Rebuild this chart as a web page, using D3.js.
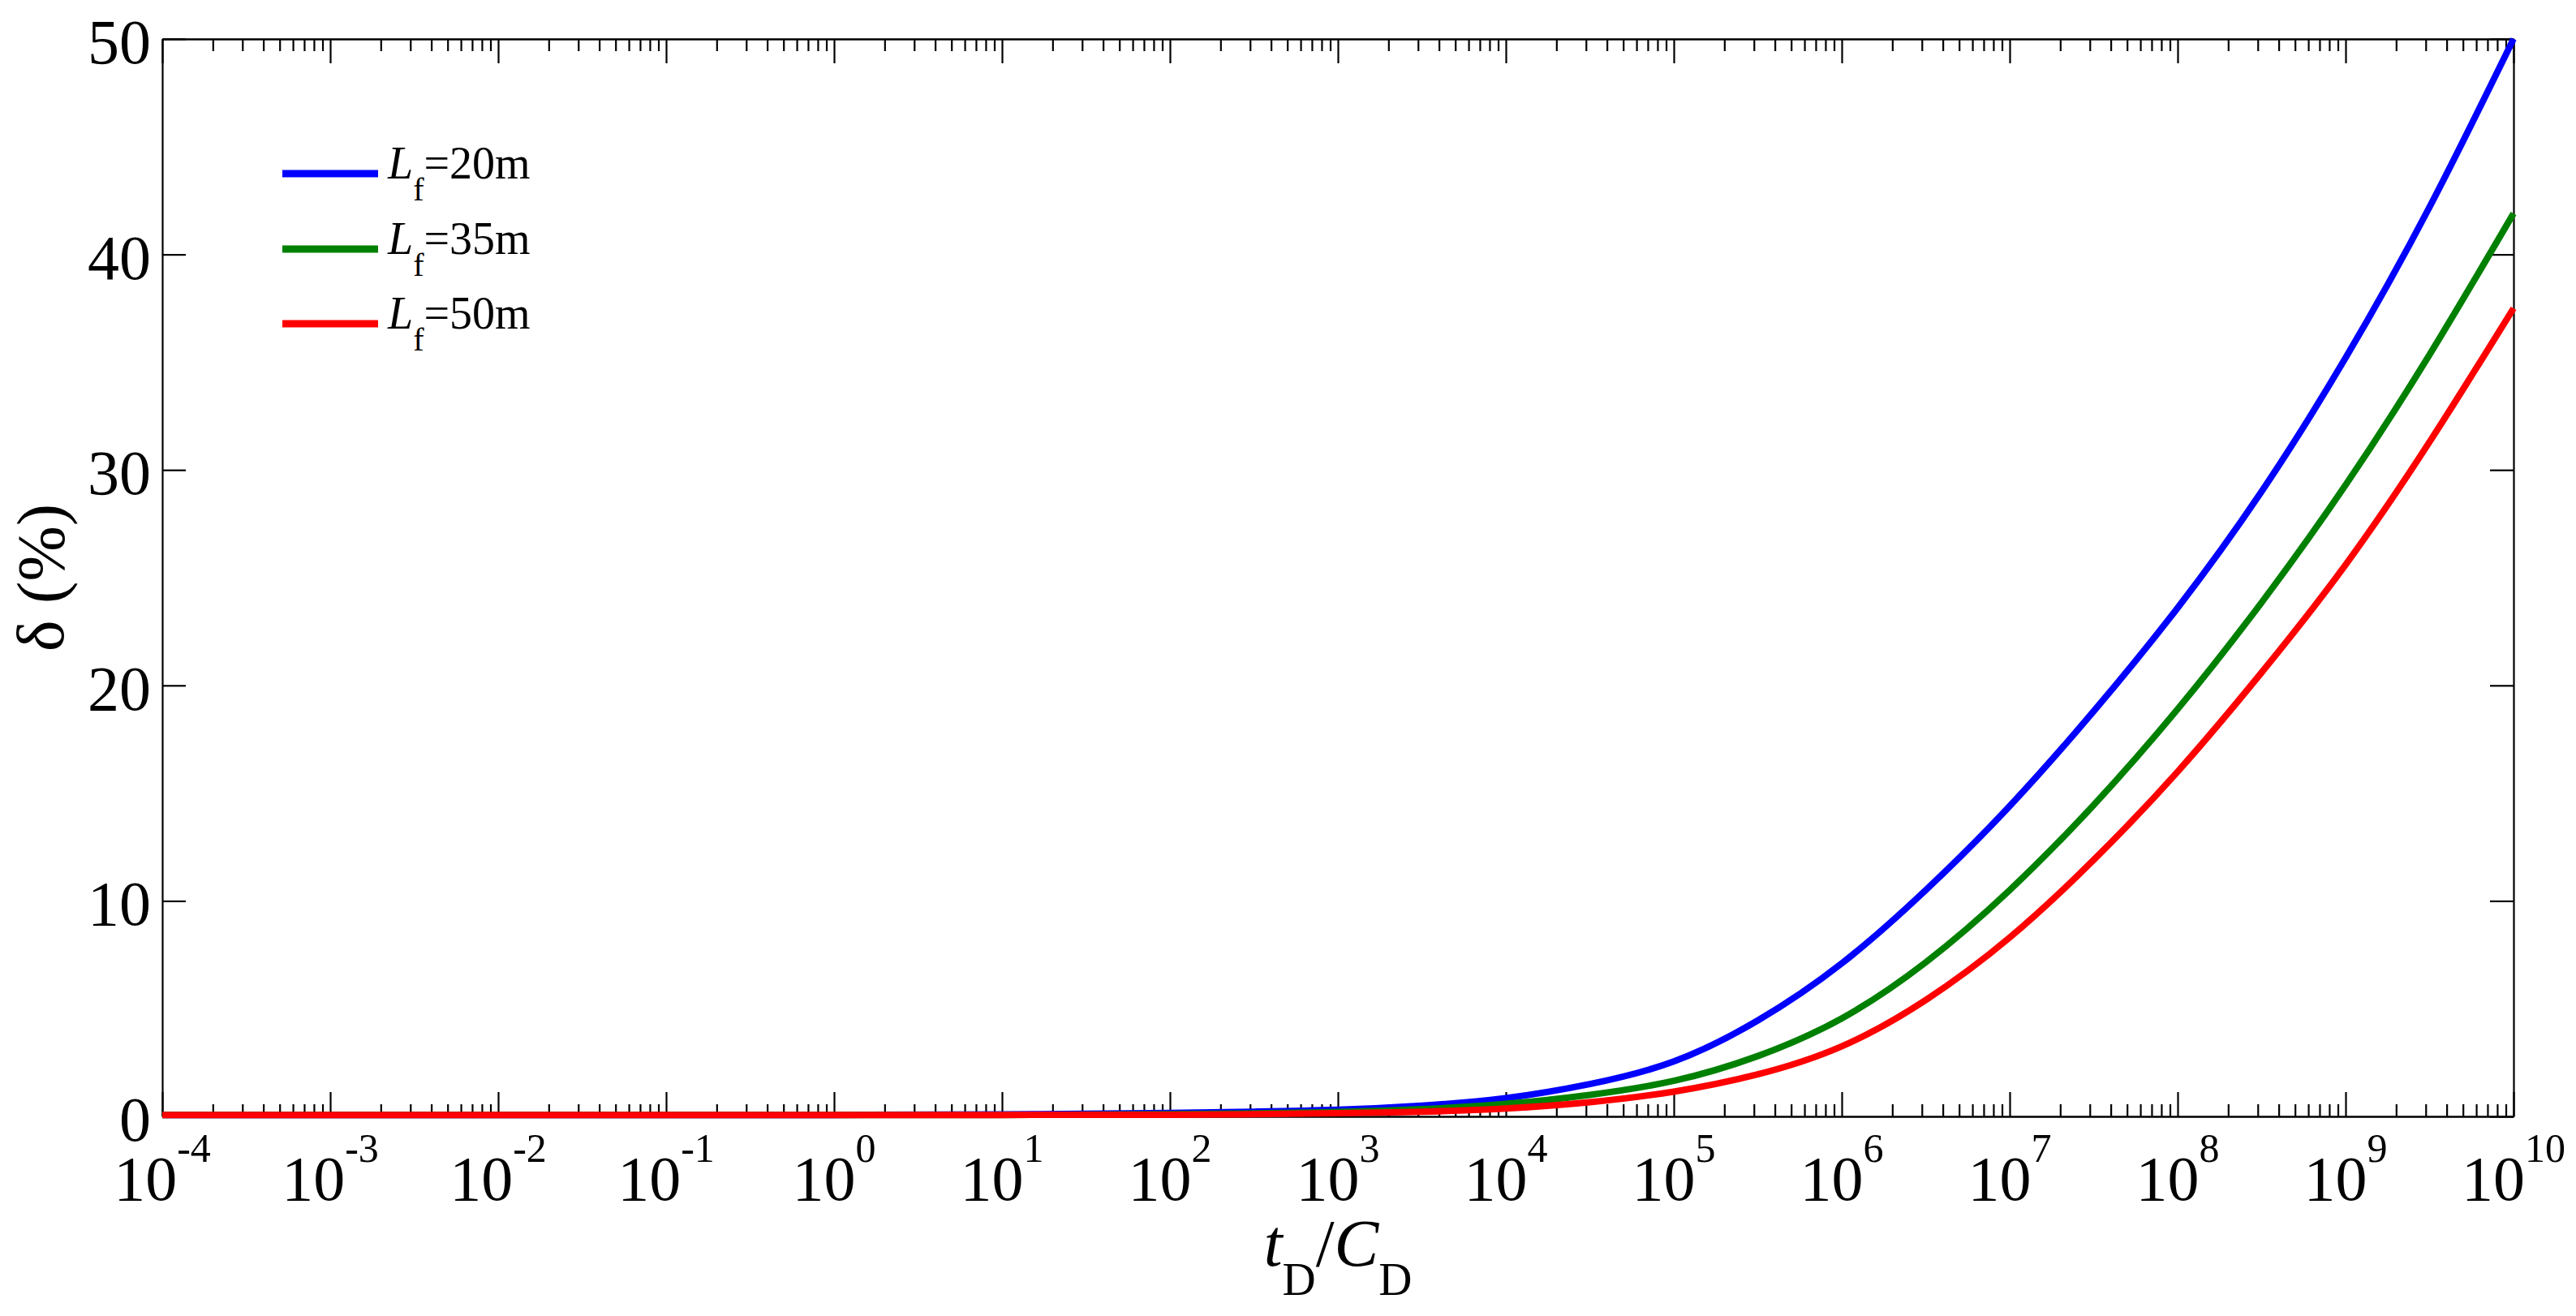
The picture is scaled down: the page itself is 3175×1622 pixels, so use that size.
<!DOCTYPE html>
<html><head><meta charset="utf-8">
<script src="https://cdn.jsdelivr.net/npm/d3@7"></script>
<style>
body{margin:0;background:#fff}
svg text{font-family:"Liberation Serif","Times New Roman",serif;fill:#000}
</style>
</head><body><svg id="c" width="3175" height="1622"></svg>
<script>
// ---- data ----
const tD = [1e-4,1e-3,1e-2,1e-1,1,10,100,316.2,1e3,3162,1e4,31623,1e5,316228,1e6,3162278,1e7,31622777,1e8,316227766,1e9,3162277660,1e10];
const deltaL20 = [0.07,0.07,0.07,0.07,0.07,0.09,0.16,0.22,0.31,0.50,0.85,1.5,2.55,4.45,7.1,10.5,14.4,18.8,23.6,29.0,35.2,42.2,50.0];
const deltaL35 = [0.07,0.07,0.07,0.07,0.07,0.07,0.10,0.14,0.21,0.34,0.58,1.0,1.65,2.8,4.55,7.15,10.5,14.45,18.9,23.85,29.3,35.35,41.9];
const deltaL50 = [0.07,0.07,0.07,0.07,0.07,0.07,0.08,0.10,0.15,0.22,0.37,0.66,1.15,1.95,3.25,5.4,8.3,11.9,16.0,20.6,25.6,31.3,37.5];
const seriesNames = ["20m","35m","50m"];
const seriesColors = ["#0000ff","#008000","#ff0000"];
const xTickValues = [1e-4,1e-3,1e-2,1e-1,1e0,1e1,1e2,1e3,1e4,1e5,1e6,1e7,1e8,1e9,1e10];
const xTickExponents = ["-4","-3","-2","-1","0","1","2","3","4","5","6","7","8","9","10"];
const yTickValues = [0,10,20,30,40,50];

// ---- layout ----
const L = 200, R = 3098, T = 48, B = 1376;
const svg = d3.select("#c");
const x = d3.scaleLog().domain([1e-4,1e10]).range([L,R]);
const y = d3.scaleLinear().domain([0,50]).range([B,T]);

const minorTicks = [];
for (let i = 0; i < xTickValues.length-1; i++) for (let k = 2; k <= 9; k++) minorTicks.push(k*xTickValues[i]);

function styleAxis(g){
  g.selectAll("path.domain").attr("stroke","#000").attr("stroke-width",2.2);
  g.selectAll(".tick line").attr("stroke","#000").attr("stroke-width",2.2);
  g.selectAll(".tick text").remove();
}
svg.append("g").attr("transform",`translate(0,${B})`)
  .call(d3.axisBottom(x).tickValues(xTickValues).tickSize(-30).tickSizeOuter(0).tickFormat("")).call(styleAxis);
svg.append("g").attr("transform",`translate(0,${B})`)
  .call(d3.axisBottom(x).tickValues(minorTicks).tickSize(-15).tickSizeOuter(0).tickFormat("")).call(styleAxis);
svg.append("g").attr("transform",`translate(0,${T})`)
  .call(d3.axisTop(x).tickValues(xTickValues).tickSize(-30).tickSizeOuter(0).tickFormat("")).call(styleAxis);
svg.append("g").attr("transform",`translate(0,${T})`)
  .call(d3.axisTop(x).tickValues(minorTicks).tickSize(-15).tickSizeOuter(0).tickFormat("")).call(styleAxis);
svg.append("g").attr("transform",`translate(${L},0)`)
  .call(d3.axisLeft(y).tickValues(yTickValues).tickSize(-29).tickSizeOuter(0).tickFormat("")).call(styleAxis);
svg.append("g").attr("transform",`translate(${R},0)`)
  .call(d3.axisRight(y).tickValues(yTickValues).tickSize(-29).tickSizeOuter(0).tickFormat("")).call(styleAxis);

// y tick labels
svg.append("g").selectAll("text").data(yTickValues).join("text")
  .attr("x",186).attr("y",d=>y(d)+30).attr("text-anchor","end")
  .attr("font-size",78).text(d=>d);

// x tick labels
const xl = svg.append("g").selectAll("text").data(xTickValues).join("text")
  .attr("x",d=>x(d)).attr("y",1479).attr("text-anchor","middle").attr("font-size",78);
xl.append("tspan").text("10");
xl.append("tspan").attr("dy",-47).attr("font-size",50).text((d,i)=>xTickExponents[i]);

// axis titles
const xt = svg.append("text").attr("x",(L+R)/2).attr("y",1560).attr("text-anchor","middle").attr("font-size",82);
xt.append("tspan").attr("font-style","italic").text("t");
xt.append("tspan").attr("font-size",57).attr("dy",36).text("D");
xt.append("tspan").attr("dy",-36).text("/");
xt.append("tspan").attr("font-style","italic").text("C");
xt.append("tspan").attr("font-size",57).attr("dy",36).text("D");

svg.append("text").attr("transform",`translate(78,${(T+B)/2}) rotate(-90)`)
  .attr("text-anchor","middle").attr("font-size",82).text("δ (%)");

// curves
const seriesData = [deltaL20, deltaL35, deltaL50];
const line = d3.line().x(d=>x(d[0])).y(d=>y(d[1])).curve(d3.curveNatural);
seriesData.forEach((vals,i)=>{
  svg.append("path").datum(tD.map((t,j)=>[t,vals[j]]))
    .attr("d",line).attr("fill","none").attr("stroke",seriesColors[i])
    .attr("stroke-width",8).attr("stroke-linejoin","round");
});

// legend
const legY = [214,307,399];
seriesNames.forEach((nm,i)=>{
  svg.append("line").attr("x1",348).attr("x2",466).attr("y1",legY[i]).attr("y2",legY[i])
    .attr("stroke",seriesColors[i]).attr("stroke-width",9);
  const t = svg.append("text").attr("x",478).attr("y",legY[i]+6).attr("font-size",56);
  t.append("tspan").attr("font-style","italic").text("L");
  t.append("tspan").attr("font-size",40).attr("dy",27).text("f");
  t.append("tspan").attr("dy",-27).text("="+nm);
});
</script>
</body></html>
